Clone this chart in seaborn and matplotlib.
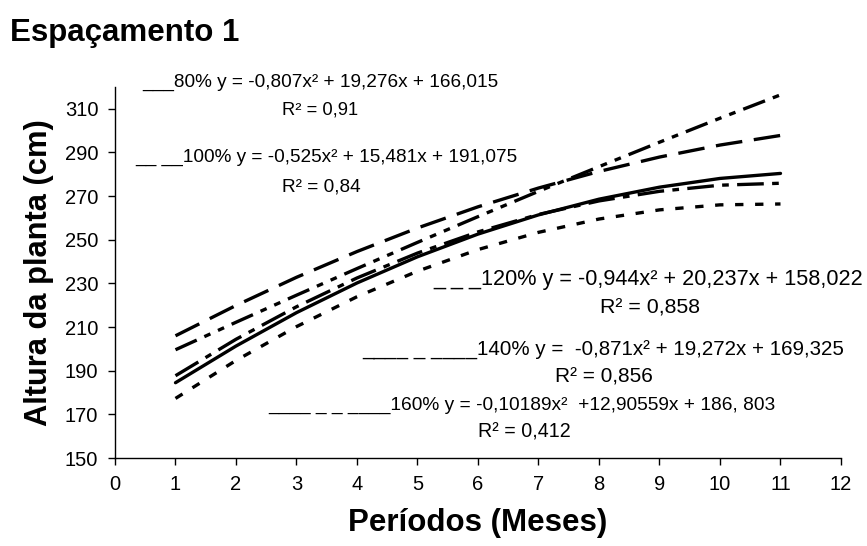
import matplotlib
matplotlib.use("Agg")
import matplotlib.pyplot as plt
import seaborn as sns
import pandas as pd

sns.set_theme(style="ticks")
plt.rcParams['font.family'] = ['Liberation Sans', 'DejaVu Sans']
plt.rcParams['text.color'] = 'black'
plt.rcParams['axes.labelcolor'] = 'black'
plt.rcParams['xtick.color'] = 'black'
plt.rcParams['ytick.color'] = 'black'

months = [1, 2, 3, 4, 5, 6, 7, 8, 9, 10, 11]
s80 = [184.5, 201.3, 216.6, 230.2, 242.2, 252.6, 261.4, 268.6, 274.1, 278.1, 280.4]
s100 = [206.0, 219.9, 232.8, 244.6, 255.4, 265.1, 273.7, 281.3, 287.9, 293.4, 297.8]
s120 = [177.3, 194.7, 210.2, 223.9, 235.6, 245.5, 253.4, 259.5, 263.7, 266.0, 266.4]
s140 = [187.7, 204.4, 219.3, 232.5, 243.9, 253.6, 261.6, 267.8, 272.2, 275.0, 275.9]
s160 = [199.6, 212.2, 224.6, 236.8, 248.8, 260.6, 272.2, 283.5, 294.7, 305.7, 316.4]
series_names = ["80%", "100%", "120%", "140%", "160%"]
xticks = list(range(0, 13))
yticks = list(range(150, 311, 20))

df = pd.concat([
    pd.DataFrame({"mes": months, "altura": vals, "trat": name})
    for name, vals in zip(series_names, [s80, s100, s120, s140, s160])
])

dash_styles = {
    "80%": "",
    "100%": (8, 3.5),
    "120%": (2.5, 3.5),
    "140%": (8, 2.5, 2, 2.5),
    "160%": (7, 2.5, 2, 2.5, 2, 2.5),
}

fig = plt.figure(figsize=(8.67, 5.46), dpi=100)
ax = fig.add_axes([115/867, 1 - 458/546, (841-115)/867, (458-87)/546])

sns.lineplot(data=df, x="mes", y="altura", style="trat", dashes=dash_styles,
             color="black", linewidth=2.4, legend=False, ax=ax)

ax.set_xlim(0, 12)
ax.set_ylim(150, 320)
ax.set_xticks(xticks)
ax.set_yticks(yticks)
ax.tick_params(axis='both', labelsize=14.5, colors='black', direction='out',
               length=5, width=1, pad=7)
for s in ["top", "right"]:
    ax.spines[s].set_visible(False)
for s in ["left", "bottom"]:
    ax.spines[s].set_color("black")
    ax.spines[s].set_linewidth(1)

ax.set_xlabel("Períodos (Meses)", fontsize=22.5, fontweight="bold", labelpad=10)
ax.set_ylabel("Altura da planta (cm)", fontsize=22.2, fontweight="bold", labelpad=8)

fig.text(10/867, 1 - 33/546, "Espaçamento 1", fontsize=22.5, fontweight="bold",
         va="center", ha="left")

annots = [
    (142, 82, 13.7, "___80% y = -0,807x² + 19,276x + 166,015"),
    (282, 110, 13.2, "R² = 0,91"),
    (135, 157, 13.7, "__ __100% y = -0,525x² + 15,481x + 191,075"),
    (282, 187, 13.7, "R² = 0,84"),
    (433, 280, 15.6, "_ _ _120% y = -0,944x² + 20,237x + 158,022"),
    (600, 308, 15.4, "R² = 0,858"),
    (362, 350, 14.8, "____ _ ____140% y =  -0,871x² + 19,272x + 169,325"),
    (555, 377, 15.0, "R² = 0,856"),
    (268, 405, 13.8, "____ _ _ ____160% y = -0,10189x²  +12,90559x + 186, 803"),
    (478, 432, 14.1, "R² = 0,412"),
]
for px, py, fs, txt in annots:
    fig.text(px/867, 1 - py/546, txt, fontsize=fs, va="center", ha="left")

fig.savefig("out.png", dpi=100)
